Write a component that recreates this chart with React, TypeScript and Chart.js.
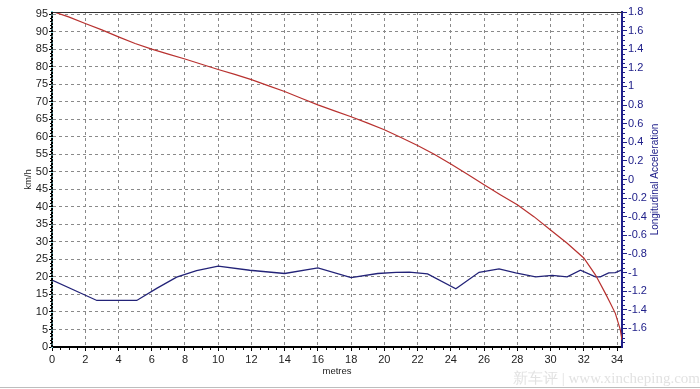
import React, { useEffect, useRef } from "react";
import { Chart, registerables } from "chart.js";

Chart.register(...registerables);

// Speed (km/h, left axis) vs distance (metres)
const speedX = [0, 1, 2, 3, 4, 5, 6, 7, 8, 9, 10, 11, 12, 13, 14, 15, 16, 17, 18, 19, 20, 21, 22, 23, 24, 25, 26, 27, 28, 29, 30, 31, 32, 32.7, 33.3, 33.6, 33.9, 34.2, 34.3];
const speedY = [95.8, 94.2, 92.3, 90.5, 88.5, 86.6, 85.0, 83.6, 82.2, 80.7, 79.2, 77.8, 76.3, 74.6, 72.9, 71.0, 69.1, 67.4, 65.7, 63.9, 62.0, 59.8, 57.5, 55.0, 52.2, 49.3, 46.3, 43.4, 40.6, 37.2, 33.4, 29.6, 25.4, 20.6, 15.3, 12.5, 9.6, 4.9, 2.0];

// Longitudinal acceleration (right axis) vs distance
const accelX = [0, 2.7, 5.1, 6.3, 7.5, 8.7, 10.0, 11.9, 14.0, 16.0, 18.0, 19.6, 20.7, 21.5, 22.6, 24.3, 25.7, 26.9, 27.9, 29.1, 30.1, 31.0, 31.8, 32.7, 33.0, 33.5, 33.9, 34.3];
const accelY = [-1.08, -1.3, -1.3, -1.17, -1.05, -0.98, -0.93, -0.975, -1.01, -0.95, -1.055, -1.01, -0.997, -0.995, -1.014, -1.175, -0.997, -0.961, -1.004, -1.047, -1.03, -1.047, -0.975, -1.047, -1.047, -1.004, -1.0, -0.97];

const xMin = 0, xMax = 34.3, xStep = 2;
const leftMin = 0, leftMax = 95.6, leftStep = 5;
const rightMin = -1.8, rightMax = 1.8, rightStep = 0.2;

const xTitle = "metres";
const leftTitle = "km/h";
const rightTitle = "Longitudinal Acceleration";
const watermark = "新车评 | www.xincheping.com";

const FONT = "'Liberation Sans', Arial, sans-serif";
const NAVY = "#20208a";

const isMult = (v: number, s: number) => Math.abs(v / s - Math.round(v / s)) < 1e-6;

const decor = {
  id: "decor",
  afterDraw(chart: any) {
    const { ctx, chartArea } = chart;
    const x = chart.scales.x, yl = chart.scales.y, yr = chart.scales.y1;
    ctx.save();
    // top border
    ctx.strokeStyle = "#333";
    ctx.lineWidth = 1;
    ctx.beginPath();
    ctx.moveTo(chartArea.left, chartArea.top + 0.5);
    ctx.lineTo(chartArea.right, chartArea.top + 0.5);
    ctx.stroke();
    // left axis dashed overlay
    ctx.save();
    ctx.strokeStyle = "#000";
    ctx.lineWidth = 2;
    ctx.setLineDash([2.5, 1]);
    ctx.beginPath();
    ctx.moveTo(chartArea.left, chartArea.bottom);
    ctx.lineTo(chartArea.left, chartArea.top);
    ctx.stroke();
    ctx.restore();
    // minor ticks x
    ctx.strokeStyle = "#000";
    ctx.beginPath();
    for (let v = 0.5; v <= xMax + 1e-6; v += 0.5) {
      if (isMult(v, xStep)) continue;
      const px = Math.round(x.getPixelForValue(v)) + 0.5;
      ctx.moveTo(px, chartArea.bottom);
      ctx.lineTo(px, chartArea.bottom + 3);
    }
    // minor ticks left
    for (let v = 1; v <= leftMax + 1e-6; v += 1) {
      if (isMult(v, leftStep)) continue;
      const py = Math.round(yl.getPixelForValue(v)) + 0.5;
      ctx.moveTo(chartArea.left - 2, py);
      ctx.lineTo(chartArea.left, py);
    }
    ctx.stroke();
    // minor ticks right
    ctx.strokeStyle = NAVY;
    ctx.beginPath();
    for (let i = 0; i <= 72; i++) {
      const v = rightMin + i * 0.05;
      if (isMult(v, rightStep)) continue;
      const py = Math.round(yr.getPixelForValue(v)) + 0.5;
      ctx.moveTo(chartArea.right, py);
      ctx.lineTo(chartArea.right + 3, py);
    }
    ctx.stroke();
    // right title
    ctx.fillStyle = NAVY;
    ctx.font = `10px ${FONT}`;
    ctx.textAlign = "center";
    ctx.textBaseline = "middle";
    ctx.translate(655, (chartArea.top + chartArea.bottom) / 2);
    ctx.rotate(-Math.PI / 2);
    ctx.fillText(rightTitle, 0, 0);
    ctx.restore();
    // watermark
    ctx.save();
    ctx.fillStyle = "#e2e2e2";
    ctx.font = "15px 'Liberation Serif', serif";
    ctx.textAlign = "left";
    ctx.textBaseline = "middle";
    ctx.fillText(watermark, 513, 379);
    // bottom frame line
    ctx.strokeStyle = "#bdbdbd";
    ctx.beginPath();
    ctx.moveTo(0, 387.5);
    ctx.lineTo(700, 387.5);
    ctx.stroke();
    ctx.restore();
  },
};

export default function App() {
  const ref = useRef<HTMLCanvasElement>(null);
  useEffect(() => {
    const canvas = ref.current!;
    const chart = new Chart(canvas, {
      type: "line",
      data: {
        datasets: [
          {
            label: "speed",
            data: speedX.map((v, i) => ({ x: v, y: speedY[i] })),
            borderColor: "#b8312f",
            borderWidth: 1.2,
            pointRadius: 0,
            yAxisID: "y",
            tension: 0,
          },
          {
            label: "accel",
            data: accelX.map((v, i) => ({ x: v, y: accelY[i] })),
            borderColor: "#232378",
            borderWidth: 1.3,
            pointRadius: 0,
            yAxisID: "y1",
            tension: 0,
          },
        ],
      },
      options: {
        responsive: false,
        animation: false,
        events: [],
        layout: { padding: { top: 12, left: 0, right: 0, bottom: 0 } },
        plugins: { legend: { display: false }, tooltip: { enabled: false } },
        scales: {
          x: {
            type: "linear",
            min: xMin,
            max: xMax,
            afterBuildTicks: (s: any) => { s.ticks = s.ticks.filter((t: any) => isMult(t.value, xStep)); },
            afterFit: (s: any) => { s.height = 42; },
            ticks: { stepSize: xStep, includeBounds: false, color: "#222", font: { family: FONT, size: 11 }, padding: 2, maxRotation: 0, autoSkip: false, callback: (v: any) => String(v) },
            grid: { color: "#8a8a8a", lineWidth: 1, tickLength: 4, tickColor: "#000", tickBorderDash: [] },
            border: { color: "#000", width: 2, dash: [3, 3] },
            title: { display: true, text: xTitle, color: "#222", font: { family: FONT, size: 9.5 }, padding: { top: 0, bottom: 11.6 } },
          },
          y: {
            type: "linear",
            position: "left",
            min: leftMin,
            max: leftMax,
            afterBuildTicks: (s: any) => { s.ticks = s.ticks.filter((t: any) => isMult(t.value, leftStep)); },
            afterFit: (s: any) => { s.width = 52; },
            ticks: { stepSize: leftStep, includeBounds: false, color: "#222", font: { family: FONT, size: 11 }, padding: 1, autoSkip: false, callback: (v: any) => String(v) },
            grid: { color: "#8a8a8a", lineWidth: 1, tickLength: 3, tickColor: "#000", tickBorderDash: [] },
            border: { color: "#7cc9d2", width: 2, dash: [3, 3] },
            title: { display: true, text: leftTitle, color: "#222", font: { family: FONT, size: 9.5 }, padding: { top: 22.6, bottom: 0 } },
          },
          y1: {
            type: "linear",
            position: "right",
            min: rightMin,
            max: rightMax,
            afterBuildTicks: (s: any) => { s.ticks = s.ticks.filter((t: any) => t.value > -1.75); },
            afterFit: (s: any) => { s.width = 78; },
            ticks: { stepSize: rightStep, color: NAVY, font: { family: FONT, size: 11 }, padding: 1, autoSkip: false, callback: (v: any) => String(Math.round(v * 10) / 10) },
            grid: { drawOnChartArea: false, tickLength: 5, tickColor: NAVY, tickBorderDash: [] },
            border: { color: NAVY, width: 2 },
          },
        },
      },
      plugins: [decor],
    } as any);
    return () => chart.destroy();
  }, []);
  return (
    <div style={{ position: "absolute", left: 0, top: 0, width: 700, height: 389, background: "#fff" }}>
      <canvas ref={ref} width={700} height={389} style={{ display: "block" }} />
    </div>
  );
}
